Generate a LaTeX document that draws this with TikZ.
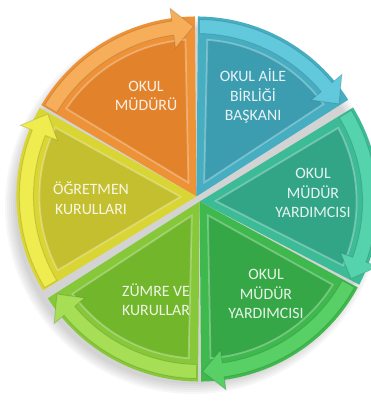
\documentclass[tikz,border=0pt]{standalone}
\usepackage{fontspec}
\setsansfont{Carlito}

\definecolor{orangeBase}{HTML}{EE9238}
\definecolor{orangeRim}{HTML}{F7AE5A}
\definecolor{orangePanel}{HTML}{E2832C}
\definecolor{blueBase}{HTML}{47AEC2}
\definecolor{blueRim}{HTML}{62C8DC}
\definecolor{bluePanel}{HTML}{3C9DB0}
\definecolor{tealBase}{HTML}{3DBB97}
\definecolor{tealRim}{HTML}{55D3AC}
\definecolor{tealPanel}{HTML}{33A587}
\definecolor{dkgreenBase}{HTML}{3FB84E}
\definecolor{dkgreenRim}{HTML}{58D065}
\definecolor{dkgreenPanel}{HTML}{36A746}
\definecolor{ltgreenBase}{HTML}{86C83A}
\definecolor{ltgreenRim}{HTML}{A6DE55}
\definecolor{ltgreenPanel}{HTML}{72B62C}
\definecolor{yellowBase}{HTML}{D8D535}
\definecolor{yellowRim}{HTML}{EEEC4E}
\definecolor{yellowPanel}{HTML}{C4BF2E}

\tikzset{
  seglabel/.style={font=\sffamily\fontsize{13.5}{16.5}\selectfont, text=white,
    text opacity=0.88, align=center},
}

% one piece of the cycle: #1 tail angle, #2 head angle, #3 base, #4 rim, #5 panel
\newcommand{\cycleseg}[5]{%
  \fill[#3] (0,0) -- ({#1-0.5}:180) arc[start angle=#1-0.5, end angle=#2+0.5, radius=180] -- cycle;
  \fill[#5, draw=white, draw opacity=0.3, line width=1.5] ({(#1+#2)/2}:16) -- ({#1-4}:157)
    arc[start angle=#1-4, end angle=#2+4, radius=157] -- cycle;
  \fill[#4, draw=black, draw opacity=0.12, line width=0.8] ({#1-1}:177)
    arc[start angle=#1-1, end angle=#2+8, radius=177] -- ({#2+8}:190) -- ({#2+1}:170)
    -- ({#2+8}:150) -- ({#2+8}:163) arc[start angle=#2+8, end angle=#1-1, radius=163] -- cycle;
}

\begin{document}
\begin{tikzpicture}[x=0.03cm, y=0.03cm]
    \useasboundingbox (0,0) rectangle (370,403);
    % soft shadow
    \foreach \r in {0,2,...,10}
      \fill[black, opacity=0.03] (193,197) circle (178+\r);
    % upper half
    \begin{scope}[shift={(198,204)}, shift={(122:3)}]
      \cycleseg{150}{90}{orangeBase}{orangeRim}{orangePanel}
      \cycleseg{90}{32}{blueBase}{blueRim}{bluePanel}
      \cycleseg{212}{150}{yellowBase}{yellowRim}{yellowPanel}
    \end{scope}
    % lower half
    \begin{scope}[shift={(198,204)}, shift={(302:3)}]
      \cycleseg{32}{-28}{tealBase}{tealRim}{tealPanel}
      \cycleseg{-28}{-90}{dkgreenBase}{dkgreenRim}{dkgreenPanel}
      \cycleseg{270}{212}{ltgreenBase}{ltgreenRim}{ltgreenPanel}
    \end{scope}
    % labels
    \node[seglabel] (mudur) at (146,307) {OKUL\\MÜDÜRÜ};
    \node[seglabel] (aile) at (253,307) {OKUL AİLE\\BİRLİĞİ\\BAŞKANI};
    \node[seglabel] (yard1) at (313,210) {OKUL\\MÜDÜR\\YARDIMCISI};
    \node[seglabel] (yard2) at (266,109) {OKUL\\MÜDÜR\\YARDIMCISI};
    \node[seglabel] (zumre) at (156,103) {ZÜMRE VE\\KURULLAR};
    \node[seglabel] (ogretmen) at (91,205) {ÖĞRETMEN\\KURULLARI};
\end{tikzpicture}
\end{document}
